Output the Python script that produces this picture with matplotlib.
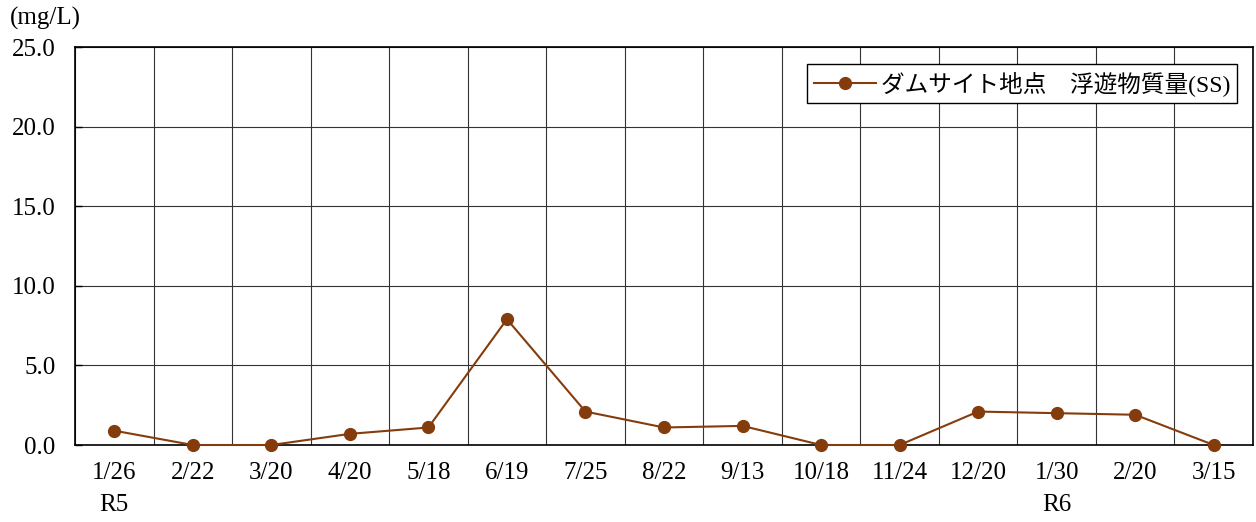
import matplotlib
matplotlib.use("Agg")
import matplotlib.pyplot as plt
import numpy as np

dates = ["1/26", "2/22", "3/20", "4/20", "5/18", "6/19", "7/25", "8/22", "9/13",
         "10/18", "11/24", "12/20", "1/30", "2/20", "3/15"]
ss_values = [0.9, 0.0, 0.0, 0.7, 1.1, 7.9, 2.1, 1.1, 1.2, 0.0, 0.0, 2.1, 2.0, 1.9, 0.0]
year_labels = {0: "R5", 12: "R6"}
series_name = "ダムサイト地点　浮遊物質量(SS)"
yticks = [0, 5, 10, 15, 20, 25]

fam = ["Liberation Serif", "Noto Sans CJK JP"]
plt.rcParams["font.family"] = fam

fig = plt.figure(figsize=(12.56, 5.22), dpi=100)
ax = fig.add_axes([75/1256, 77/522, (1253-75)/1256, (445-47)/522])

color = "#843C0C"
x = np.arange(len(dates))
ax.plot(x, ss_values, color=color, lw=1.5, marker="o", ms=8.5, label=series_name,
        clip_on=False, zorder=3)

fs = 18
ax.set_xlim(-0.5, len(dates) - 0.5)
ax.set_ylim(0, 25)
ax.set_yticks(yticks)
ax.set_yticklabels([f"{v:.1f}" for v in yticks], fontsize=fs)
ax.set_xticks(x)
ax.set_xticklabels(dates, fontsize=fs)
ax.tick_params(axis="x", length=0, pad=12)
ax.tick_params(axis="y", direction="in", length=5, width=1, pad=14)
ax.set_xticks(np.arange(len(dates) + 1) - 0.5, minor=True)
ax.tick_params(axis="x", which="minor", length=0)
ax.grid(True, which="minor", axis="x", color="#333333", lw=0.8)
ax.grid(True, which="major", axis="y", color="#333333", lw=0.8)
ax.grid(False, which="major", axis="x")
for s in ax.spines.values():
    s.set_linewidth(1.2)
    s.set_color("black")

for i, lab in year_labels.items():
    ax.text(i, -60/398, lab, transform=ax.get_xaxis_transform(), ha="center", va="center",
            fontsize=fs)

fig.text(10/1256, 1 - 18/522, "(mg/L)", ha="left", va="center", fontsize=fs)

leg = ax.legend(loc="upper right", bbox_to_anchor=(1237/1256, 1 - 64/522),
                bbox_transform=fig.transFigure, fancybox=False, framealpha=1,
                edgecolor="black", prop={"family": fam, "size": 17}, borderpad=0.3,
                handlelength=2.6, handletextpad=0.2, borderaxespad=0)
leg.get_frame().set_linewidth(1.0)

fig.savefig("out.png", dpi=100)
